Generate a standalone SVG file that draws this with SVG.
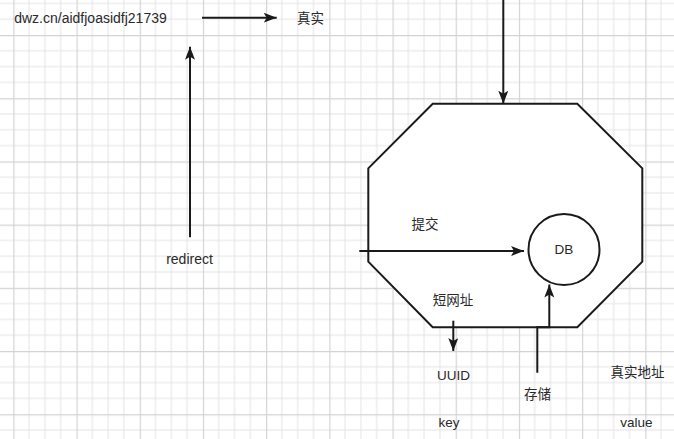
<svg xmlns="http://www.w3.org/2000/svg" width="674" height="439" viewBox="0 0 674 439">
  <defs>
    <!-- squared paper: light minor lines every 15.8px, stronger every 63.2px -->
    <pattern id="grid" patternUnits="userSpaceOnUse" x="13.3" y="35" width="63.2" height="63.2">
      <path d="M15.8 0V63.2M31.6 0V63.2M47.4 0V63.2M0 15.8H63.2M0 31.6H63.2M0 47.4H63.2" fill="none" stroke="#e4e4e4" stroke-width="1"/>
      <path d="M0.5 0V63.2M0 0.5H63.2" fill="none" stroke="#d3d3d3" stroke-width="1.3"/>
    </pattern>
    <marker id="arrow" markerUnits="userSpaceOnUse" markerWidth="14" markerHeight="12" refX="13" refY="5" orient="auto">
      <path d="M0 0 L13 5 L0 10 L3 5 Z" fill="#1a1a1a"/>
    </marker>
  </defs>
  <style>
    .edge { fill: none; stroke: #1a1a1a; stroke-width: 2; marker-end: url(#arrow); }
    .shape { fill: #ffffff; stroke: #1a1a1a; stroke-width: 2; }
    text { font-family: "Liberation Sans", "Noto Sans CJK SC", sans-serif; font-size: 13.5px; fill: #2a2a2a; text-anchor: middle; dominant-baseline: central; }
    .big { font-size: 14px; }
  </style>

  <rect width="674" height="439" fill="#ffffff"/>
  <rect width="674" height="439" fill="url(#grid)"/>

  <g id="service">
    <polygon class="shape" points="432.7,103.7 577.3,103.7 642.3,168.3 642.3,261.7 577.3,327.3 432.7,327.3 368.3,261.7 368.3,168.3"/>
  </g>
  <g id="db">
    <circle class="shape" cx="564" cy="249.5" r="35.5"/>
    <text x="564" y="249.5">DB</text>
  </g>

  <g id="short-url"><text class="big" x="90.5" y="18">dwz.cn/aidfjoasidfj21739</text></g>
  <g id="real"><text x="310.5" y="18">真实</text></g>
  <g id="redirect"><text class="big" x="189.5" y="259">redirect</text></g>
  <g id="submit"><text x="425" y="224.5">提交</text></g>
  <g id="short-name"><text x="453" y="300">短网址</text></g>
  <g id="uuid"><text x="453.5" y="375">UUID</text></g>
  <g id="store"><text x="537.5" y="394">存储</text></g>
  <g id="real-address"><text x="637.5" y="372.5">真实地址</text></g>
  <g id="key"><text x="449" y="422.5">key</text></g>
  <g id="value"><text x="636.5" y="422.5">value</text></g>

  <g id="connectors">
    <path class="edge" d="M202 17.7H276.7"/>
    <path class="edge" d="M190 237.3V46.7"/>
    <path class="edge" d="M503.3 0V103.7"/>
    <path class="edge" d="M359.3 251H524"/>
    <path class="edge" d="M537.3 372.7V327.3H549.3V284.5"/>
    <path class="edge" d="M453.3 320.7V351"/>
  </g>
</svg>
